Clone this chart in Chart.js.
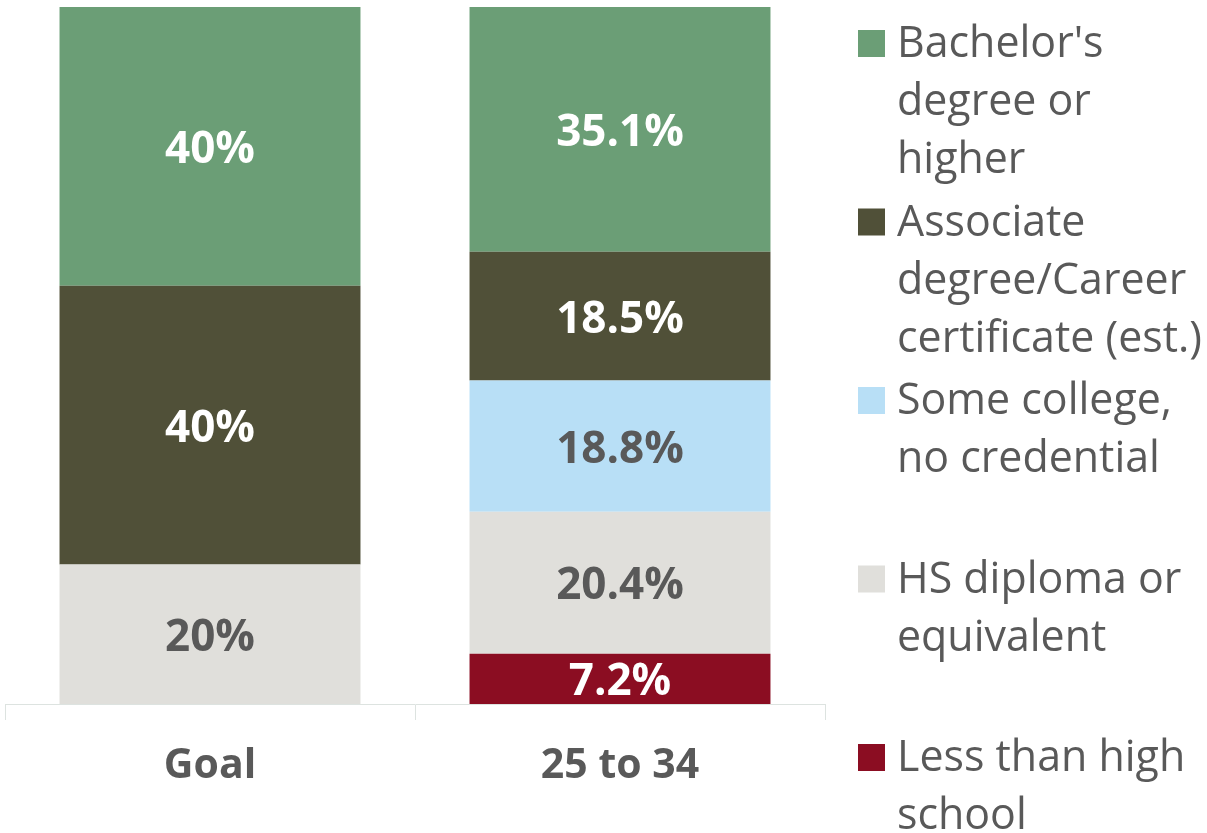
<!DOCTYPE html>
<html>
<head>
<meta charset="utf-8">
<script src="https://cdn.jsdelivr.net/npm/chart.js@4"></script>
<style>
  body { margin: 0; background: #fff; }
</style>
</head>
<body>
<canvas id="myChart" width="1207" height="833"></canvas>
<script>
const categories = ['Goal', '25 to 34'];

// bottom to top of the stack
const seriesNames = [
    'Less than high school',
    'HS diploma or equivalent',
    'Some college, no credential',
    'Associate degree/Career certificate (est.)',
    "Bachelor's degree or higher"
];
const legendLines = [
    ['Less than high', 'school'],
    ['HS diploma or', 'equivalent'],
    ['Some college,', 'no credential'],
    ['Associate', 'degree/Career', 'certificate (est.)'],
    ["Bachelor's", 'degree or', 'higher']
];
const lessThanHS = [0, 7.2];
const hsDiploma = [20, 20.4];
const someCollege = [0, 18.8];
const associate = [40, 18.5];
const bachelors = [40, 35.1];

const colors = ['#8b0d22', '#e0dfdb', '#b8dff6', '#505038', '#6b9e76'];
const labelColors = ['#ffffff', '#595959', '#595959', '#ffffff', '#ffffff'];
const seriesValues = [lessThanHS, hsDiploma, someCollege, associate, bachelors];

const FONT = "'Open Sans', sans-serif";

const segmentLabels = {
    id: 'segmentLabels',
    afterDatasetsDraw(chart) {
        const ctx = chart.ctx;
        ctx.save();
        ctx.font = 'bold 44px ' + FONT;
        ctx.textAlign = 'center';
        ctx.textBaseline = 'middle';
        chart.data.datasets.forEach((ds, i) => {
            const meta = chart.getDatasetMeta(i);
            meta.data.forEach((bar, j) => {
                const v = ds.data[j];
                if (!v) return;
                const txt = Number.isInteger(v) ? v + '%' : v.toFixed(1) + '%';
                ctx.fillStyle = labelColors[i];
                ctx.fillText(txt, bar.x, (bar.y + bar.base) / 2 + 4);
            });
        });
        ctx.restore();
    }
};

const sideLegend = {
    id: 'sideLegend',
    afterDraw(chart) {
        const ctx = chart.ctx;
        ctx.save();
        ctx.font = '38px ' + FONT;
        const w = ctx.measureText('certificate (est.)').width;
        const size = 38 * 305 / w;
        ctx.font = size + 'px ' + FONT;
        ctx.textBaseline = 'middle';
        ctx.textAlign = 'left';
        const n = seriesNames.length;
        for (let k = 0; k < n; k++) {
            const i = n - 1 - k;
            const y0 = 43 + k * 178.5;
            ctx.fillStyle = colors[i];
            ctx.fillRect(858, y0 - 13, 27, 27);
            ctx.fillStyle = '#595959';
            legendLines[i].forEach((line, l) => {
                ctx.fillText(line, 897, y0 + l * 58 + 2);
            });
        }
        ctx.restore();
    }
};

new Chart(document.getElementById('myChart'), {
    type: 'bar',
    data: {
        labels: categories,
        datasets: seriesValues.map((vals, i) => ({
            label: seriesNames[i],
            data: vals,
            backgroundColor: colors[i],
            borderWidth: 0,
            categoryPercentage: 1,
            barPercentage: 0.734
        }))
    },
    options: {
        responsive: false,
        animation: false,
        devicePixelRatio: 1,
        layout: { padding: { left: 5, right: 382, top: 7, bottom: 0 } },
        plugins: {
            legend: { display: false },
            tooltip: { enabled: false }
        },
        scales: {
            x: {
                stacked: true,
                afterFit(scale) { scale.height = 129; },
                grid: {
                    offset: true,
                    drawOnChartArea: false,
                    drawTicks: true,
                    tickLength: 16,
                    color: '#dde3e0'
                },
                border: { display: true, color: '#dde3e0', width: 1 },
                ticks: {
                    padding: 22,
                    color: '#595959',
                    font: { family: FONT, size: 41, weight: 'bold' }
                }
            },
            y: {
                stacked: true,
                display: false,
                min: 0,
                max: 100
            }
        }
    },
    plugins: [segmentLabels, sideLegend]
});
</script>
</body>
</html>
